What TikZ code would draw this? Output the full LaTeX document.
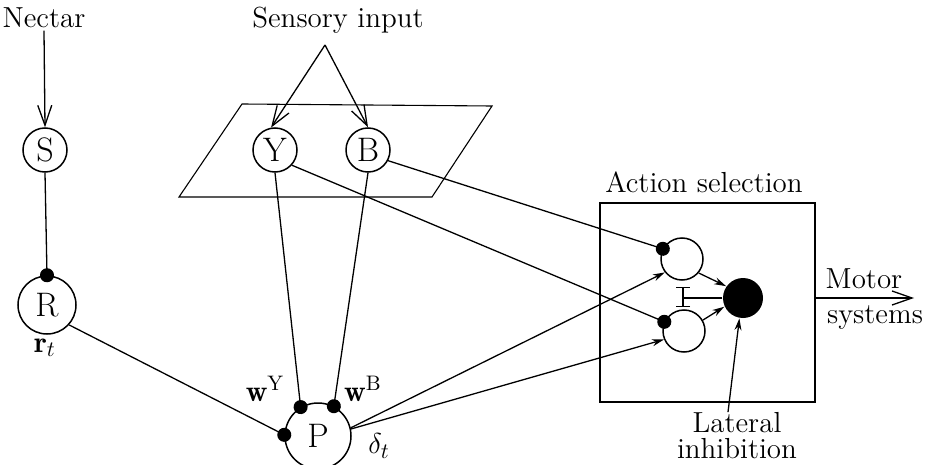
\documentclass[tikz,border=0pt]{standalone}
\usepackage{fontspec}
\usetikzlibrary{arrows.meta}
\begin{document}
\begin{tikzpicture}[x=0.5pt,y=-0.5pt,line width=0.65pt,
      cell/.style={draw,circle,inner sep=0pt,line width=0.75pt,font=\fontsize{17}{17}\selectfont},
      txt/.style={inner sep=1pt,font=\fontsize{14.5}{13}\selectfont},
      lbl/.style={inner sep=0pt,font=\fontsize{15}{15}\selectfont},
      syn/.style={-{Circle[length=7pt]},shorten >=-3.5pt},
      exc/.style={-{Stealth[length=6pt,width=3.5pt]}},
      feed/.style={-{Straight Barb[length=10pt,width=7pt]}}]
    \useasboundingbox (0,0) rectangle (931,465);
    % texts
    \node[txt] (nectar) at (44,18) {Nectar};
    \node[txt] (sens) at (338,20) {Sensory input};
    \node[txt] (actsel) at (704,182) {Action selection};
    \node[txt,align=center,inner sep=0pt] (lat) at (737,436) {Lateral\\inhibition};
    \node[txt] (motor) at (864,279) {Motor};
    \node[txt] (sys) at (875,318) {systems};
    % sensory plane
    \draw[line width=0.55pt] (242,104) -- (492,106) -- (432,197) -- (179,197) -- cycle;
    % units
    \node[cell,minimum size=22pt] (S) at (45,150) {S};
    \node[cell,minimum size=29pt] (R) at (47,305) {R};
    \node[cell,minimum size=22pt,fill=white] (Y) at (275,150) {Y};
    \node[cell,minimum size=22pt,fill=white] (B) at (368,150) {B};
    \node[cell,minimum size=33pt] (P) at (318,436) {P};
    \node[draw,line width=0.75pt,minimum width=107.5pt,minimum height=99.5pt,inner sep=0pt] (sel) at (707.5,302.5) {};
    \node[cell,minimum size=21pt] (up) at (682,259) {};
    \node[cell,minimum size=21pt] (dn) at (684,331) {};
    \node[circle,fill=black,inner sep=0pt,minimum size=20pt] (win) at (743,298) {};
    % weight labels
    \node[lbl] (rt) at (45,348) {$\mathbf{r}_t$};
    \node[lbl] (wy) at (265,389) {$\mathbf{w}^{\mathrm{Y}}$};
    \node[lbl] (wb) at (363,389) {$\mathbf{w}^{\mathrm{B}}$};
    \node[lbl] (dt) at (379,446) {$\delta_t$};
    \coordinate (apex) at (325,45);
    \coordinate (motorend) at (914,298);
    \coordinate (bartop) at (683,287);
    \coordinate (barbot) at (683,307);
    % connections
    \draw[feed] (nectar.south) -- (S.north);
    \draw[feed] (apex) -- (Y.100);
    \draw[feed] (apex) -- (B.north);
    \draw[syn] (S.south) -- (R.north);
    \draw[syn] (R.-42) -- (P.178);
    \draw[syn] (Y.south) -- (P.121);
    \draw[syn] (B.south) -- (P.62);
    \draw[syn] (B.-28) -- (up.152);
    \draw[syn] (Y.-42) -- (dn.155);
    \draw[exc] (P.14) -- (up.218);
    \draw[exc] (P.12) -- (dn.203);
    \draw[exc] (up.-40) -- (win.145);
    \draw[exc] (dn.30) -- (win.205);
    \draw (win.west) -- (bartop |- win);
    \draw[{Bar[width=7pt]}-{Bar[width=7pt]}] (bartop) -- (barbot);
    \draw[exc] (lat.north) ++(-9,0) -- (win.-100);
    \draw[feed] (sel.east |- win) -- (motorend);
  \end{tikzpicture}
\end{document}
